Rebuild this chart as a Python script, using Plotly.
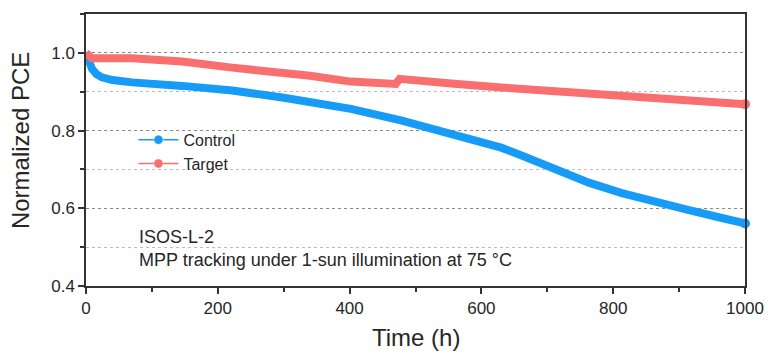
import plotly.graph_objects as go

# Aging time (h) and normalized PCE readings for each device
time_control = [0, 5, 9, 16, 24, 40, 70, 146, 222, 298, 340, 402, 478, 554, 592, 630, 661, 711, 763, 813, 863, 915, 965, 1000]
pce_control = [1.0, 0.975, 0.959, 0.945, 0.937, 0.930, 0.924, 0.915, 0.903, 0.885, 0.874, 0.856, 0.826,
               0.792, 0.774, 0.756, 0.736, 0.699, 0.666, 0.639, 0.616, 0.595, 0.575, 0.561]

time_target = [0, 3, 9, 70, 146, 222, 298, 340, 402, 453, 470, 476, 508, 554, 630, 661, 763, 863, 965, 1000]
pce_target = [1.0, 0.997, 0.986, 0.986, 0.978, 0.962, 0.950, 0.941, 0.926, 0.918, 0.920, 0.933,
              0.930, 0.921, 0.911, 0.907, 0.894, 0.881, 0.873, 0.868]

series_names = ["Control", "Target"]
series_colors = ["#169CF6", "#F96E6E"]

x_ticks = [0, 200, 400, 600, 800, 1000]
y_ticks = [0.4, 0.6, 0.8, 1.0]

FONT = "Liberation Sans, Arial, sans-serif"
TEXT = "#262626"

fig = go.Figure()

for name, color, t, v in zip(series_names, series_colors,
                             [time_control, time_target], [pce_control, pce_target]):
    # thick band of data
    fig.add_trace(go.Scatter(x=t, y=v, mode="lines", line=dict(color=color, width=8),
                             showlegend=False, hoverinfo="skip", cliponaxis=False))
    # closing point marker
    fig.add_trace(go.Scatter(x=t[-1:], y=v[-1:], mode="markers", cliponaxis=False,
                             marker=dict(color=color, size=10), showlegend=False))
    # legend entry
    fig.add_trace(go.Scatter(x=[None], y=[None], mode="lines+markers", name=name,
                             line=dict(color=color, width=1.5),
                             marker=dict(color=color, size=9, symbol="circle",
                                         line=dict(color="rgba(255,255,255,0.35)", width=1))))

axis_common = dict(
    showline=True, linecolor="#333333", linewidth=1.5, mirror=True,
    ticks="outside", ticklen=6, tickwidth=1.5, tickcolor="#333333",
    tickfont=dict(family=FONT, size=17, color=TEXT),
    zeroline=False, automargin=False,
)

fig.update_xaxes(
    range=[0, 1000], tickvals=x_ticks, showgrid=False,
    minor=dict(dtick=100, ticks="outside", ticklen=4, tickcolor="#333333", showgrid=False),
    **axis_common,
)
fig.update_yaxes(
    range=[0.4, 1.1], tickvals=y_ticks, tickformat=".1f",
    showgrid=True, gridcolor="#8a8a8a", griddash="dot", gridwidth=1,
    minor=dict(dtick=0.1, tick0=0.4, ticks="outside", ticklen=4, tickcolor="#333333",
               showgrid=True, gridcolor="#bdbdbd", griddash="dot", gridwidth=1),
    **axis_common,
)

# axis titles
fig.add_annotation(x=0.5008, y=-0.1875, xref="paper", yref="paper", xanchor="center", yanchor="middle",
                   text="Time (h)", showarrow=False, font=dict(family=FONT, size=24, color=TEXT))
fig.add_annotation(x=-0.1, y=0.533, xref="paper", yref="paper", xanchor="center", yanchor="middle",
                   text="Normalized PCE", textangle=-90, showarrow=False,
                   font=dict(family=FONT, size=24, color=TEXT))

# test condition notes
fig.add_annotation(x=0.077, y=0.18, xref="paper", yref="paper", xanchor="left", yanchor="middle",
                   text="ISOS-L-2", showarrow=False,
                   font=dict(family=FONT, size=18, color=TEXT))
fig.add_annotation(x=0.077, y=0.096, xref="paper", yref="paper", xanchor="left", yanchor="middle",
                   text="MPP tracking under 1-sun illumination at 75 °C", showarrow=False,
                   font=dict(family=FONT, size=18, color=TEXT))

fig.update_layout(
    width=768, height=354,
    margin=dict(l=86, r=23, t=14, b=68),
    paper_bgcolor="white", plot_bgcolor="white",
    showlegend=True,
    legend=dict(x=0.072, y=0.6, xanchor="left", yanchor="top",
                bgcolor="rgba(0,0,0,0)", font=dict(family=FONT, size=16, color=TEXT),
                itemwidth=40, tracegroupgap=0),
)

fig.write_html("out.html")
